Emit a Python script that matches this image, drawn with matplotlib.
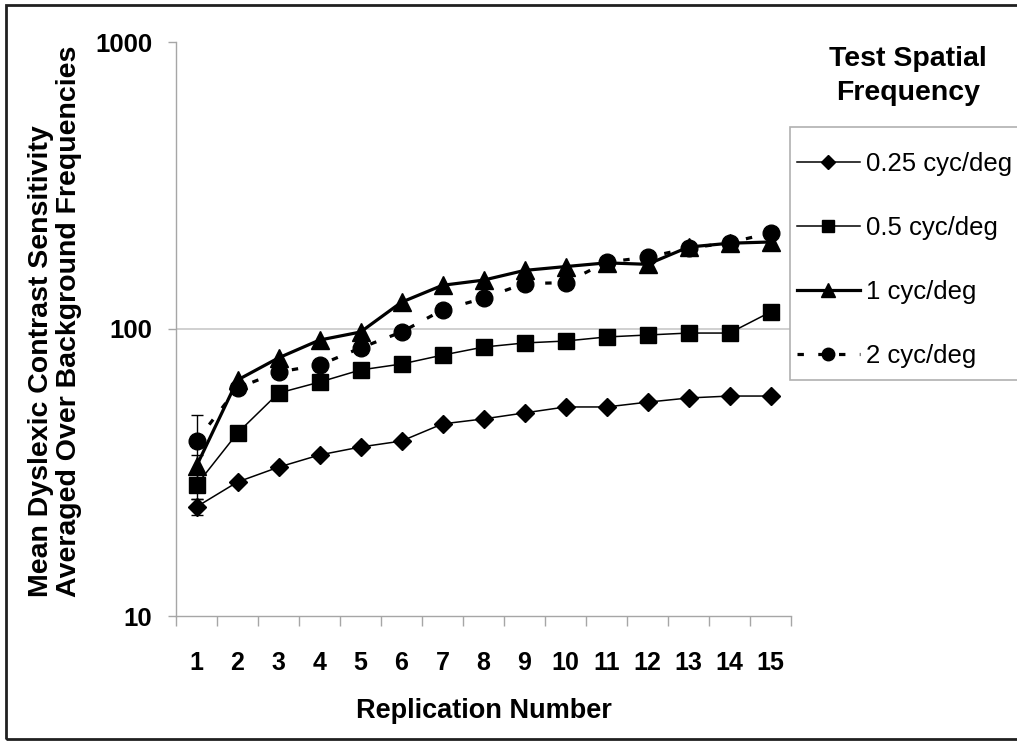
import matplotlib
matplotlib.use("Agg")
import matplotlib.pyplot as plt
from matplotlib.patches import Rectangle

plt.rcParams['font.family'] = ['Liberation Sans', 'DejaVu Sans']

replication = list(range(1, 16))
sf_025 = [24.0, 29.3, 33.0, 36.4, 38.8, 40.7, 46.7, 48.6, 51.0, 53.5, 53.5, 55.6, 57.5, 58.4, 58.4]
sf_05 = [28.6, 43.4, 59.8, 65.3, 72.0, 75.5, 81.1, 86.5, 89.4, 90.8, 93.8, 95.3, 96.8, 96.8, 114.6]
sf_1 = [33.3, 66.4, 79.3, 91.5, 97.6, 124, 142, 148, 160, 165, 170, 168, 193, 199, 201]
sf_2 = [40.7, 62.3, 70.8, 74.9, 85.9, 97.6, 116.5, 128, 144, 145, 171, 178, 191, 200, 216]
err_first = {'0.25': 1.5, '0.5': 3.0, '1': 3.0, '2': 9.5}
labels = ['0.25 cyc/deg', '0.5 cyc/deg', '1 cyc/deg', '2 cyc/deg']
y_ticks = [10, 100, 1000]

W, H = 1017, 742
fig = plt.figure(figsize=(W / 100, H / 100), dpi=100)
ax = fig.add_axes([176 / W, 1 - 616 / H, (791 - 176) / W, (616 - 42) / H])

ax.set_yscale('log')
ax.set_ylim(10, 1000)
ax.set_xlim(0.5, 15.5)

gray = '#a6a6a6'
ax.axhline(100, color='#c8c8c8', lw=1.2, zorder=0)

h1, = ax.plot(replication, sf_025, color='black', lw=1.1, marker='D', ms=9.5, zorder=3)
h2, = ax.plot(replication, sf_05, color='black', lw=1.1, marker='s', ms=11, zorder=3)
h3, = ax.plot(replication, sf_1, color='black', lw=2.3, marker='^', ms=13.5, zorder=4)
h4, = ax.plot(replication, sf_2, color='black', lw=2.3, marker='o', ms=12,
              linestyle=(0, (2, 4.5)), zorder=4)

for vals, key in [(sf_025, '0.25'), (sf_05, '0.5'), (sf_1, '1'), (sf_2, '2')]:
    ax.errorbar([replication[0]], [vals[0]], yerr=[[err_first[key]], [err_first[key]]],
                fmt='none', ecolor='black', elinewidth=1.0, capsize=4, zorder=2)

for s in ['top', 'right']:
    ax.spines[s].set_visible(False)
for s in ['left', 'bottom']:
    ax.spines[s].set_color(gray)
    ax.spines[s].set_linewidth(1.0)

ax.set_yticks(y_ticks)
ax.set_yticklabels([str(v) for v in y_ticks], fontsize=18.5, fontweight='bold')
ax.yaxis.set_minor_locator(matplotlib.ticker.NullLocator())
ax.tick_params(axis='y', direction='out', length=6, color=gray, width=1.0, pad=11)

ax.set_xticks(replication)
ax.set_xticklabels([str(v) for v in replication], fontsize=18, fontweight='bold')
ax.set_xticks([i + 0.5 for i in range(0, 16)], minor=True)
ax.tick_params(axis='x', which='major', length=0, pad=25)
ax.tick_params(axis='x', which='minor', direction='out', length=7, color=gray, width=1.0)

ax.set_xlabel('Replication Number', fontsize=19.5, fontweight='bold', labelpad=17)

fig.text(55 / W, 1 - 597 / H,
         'Mean Dyslexic Contrast Sensitivity\nAveraged Over Background Frequencies',
         rotation=90, ha='center', va='bottom', multialignment='left',
         fontsize=20.5, fontweight='bold', linespacing=1.08)

# legend frame
fig.patches.append(Rectangle((790 / W, 1 - 380 / H), 260 / W, (380 - 127) / H,
                             transform=fig.transFigure, fill=True, facecolor='white',
                             edgecolor='#b0b0b0', lw=1.2, zorder=5))
leg = fig.legend([h1, h2, h3, h4], labels, loc='upper left',
                 bbox_to_anchor=(797 / W, 1 - 152 / H), frameon=False,
                 fontsize=18.5, handlelength=2.45, handletextpad=0.25,
                 labelspacing=1.56, borderpad=0, borderaxespad=0, markerscale=0.75)
leg.set_zorder(6)

fig.text(908 / W, 1 - 76 / H, 'Test Spatial\nFrequency', ha='center', va='center',
         fontsize=20.5, fontweight='bold', linespacing=1.35)

# outer border
fig.patches.append(Rectangle((6 / W, 1 - 739 / H), 1100 / W, (739 - 5) / H,
                             transform=fig.transFigure, fill=False,
                             edgecolor='#202020', lw=2.0, zorder=10))

fig.savefig('out.png', dpi=100)
